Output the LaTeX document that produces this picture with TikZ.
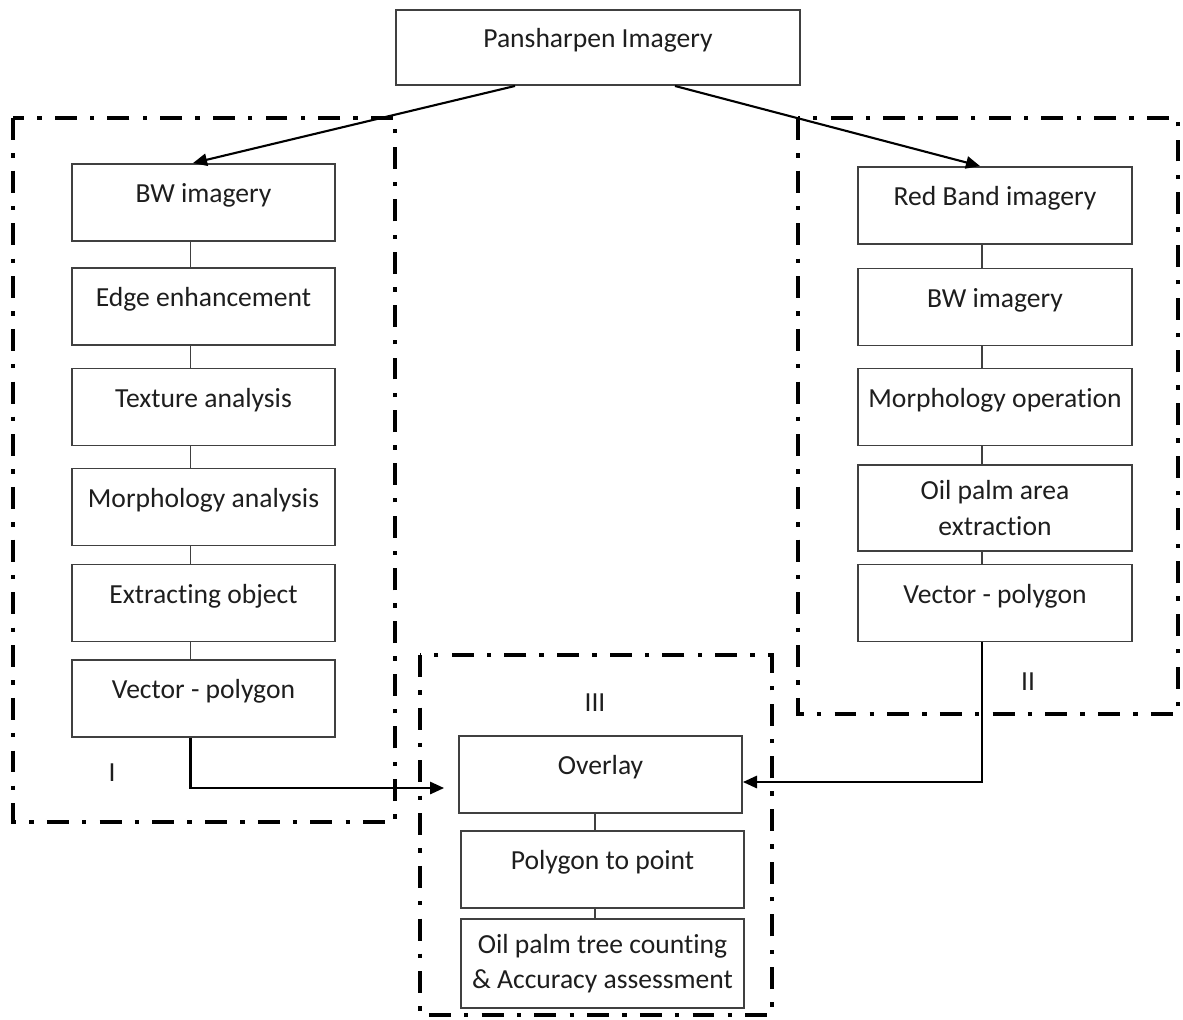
\documentclass[tikz,border=0pt]{standalone}
\usepackage{fontspec}
\setmainfont{Carlito}[Ligatures=CommonOff]
\usetikzlibrary{arrows.meta, calc}

\definecolor{boxgray}{RGB}{64,64,64}
\definecolor{txtgray}{RGB}{30,30,30}

\tikzset{
  boxbase/.style={draw=boxgray, line width=1.1pt, fill=white, inner sep=0pt,
    minimum height=1.54cm, text=txtgray, font=\fontsize{15.7}{20}\selectfont},
  onebox/.style={boxbase, text height=0.4cm, text depth=0.4cm},
  twobox/.style={boxbase, align=center},
  link/.style={draw=boxgray, line width=1.1pt},
  flow/.style={-{Triangle[length=8pt,width=7pt]}, line width=1.2pt},
  groupframe/.style={line width=2.3pt, dash pattern=on 12.5pt off 7.5pt on 2.5pt off 7.5pt},
  tag/.style={text=txtgray, font=\fontsize{15.7}{20}\selectfont}
}

\begin{document}
\begin{tikzpicture}[x=0.02cm, y=-0.02cm]
\useasboundingbox (0,0) rectangle (1183,1019);

% dashed groups
\draw[groupframe] (13,118) rectangle (395,822);
\draw[groupframe] (798,118) rectangle (1178,714);
\draw[groupframe] (420,655) rectangle (772,1015);

\node[onebox, minimum width=8.08cm, minimum height=1.5cm] (pan) at (598,47.5) {Pansharpen Imagery};

% branch I
\foreach \name/\y/\txt in {bwl/202.5/BW imagery, edge/306.5/Edge enhancement,
    tex/407/Texture analysis, morph/507/Morphology analysis,
    extr/603/Extracting object, vecl/698.5/Vector - polygon}
  \node[onebox, minimum width=5.26cm] (\name) at (203.5,\y) {\txt};

% branch II
\foreach \name/\y/\txt in {red/205.5/Red Band imagery, bwr/307/BW imagery,
    mop/407/Morphology operation, vecr/603/Vector - polygon}
  \node[onebox, minimum width=5.48cm] (\name) at (995,\y) {\txt};
\node[twobox, minimum width=5.48cm, minimum height=1.72cm] (area) at (995,508) {Oil palm area\\extraction};

% branch III
\node[onebox, minimum width=5.66cm] (ovl) at (600.5,774.5) {Overlay};
\node[onebox, minimum width=5.66cm] (ptp) at (602.5,869.5) {Polygon to point};
\node[twobox, minimum width=5.66cm, minimum height=1.78cm] (cnt) at (602.5,963.5) {Oil palm tree counting\\\& Accuracy assessment};

\node[tag] (lI) at (112,773) {I};
\node[tag] (lII) at (1028,682) {II};
\node[tag] (lIII) at (595,703) {III};

% links
\foreach \a/\b in {bwl/edge, edge/tex, tex/morph, morph/extr, extr/vecl,
    red/bwr, bwr/mop, mop/area, area/vecr}
  \draw[link] ($(\a.south)+(-13,0)$) -- ($(\b.north)+(-13,0)$);
\draw[link] ($(ovl.south)+(-5.5,0)$) -- ($(ptp.north)+(-7.5,0)$);
\draw[link] ($(ptp.south)+(-7.5,0)$) -- ($(cnt.north)+(-7.5,0)$);

% arrows
\draw[flow] ($(pan.south)+(-83,0)$) -- ($(bwl.north)+(-10.5,0)$);
\draw[flow] ($(pan.south)+(77,0)$) -- ($(red.north)+(-15,0)$);
\draw[flow] ($(vecl.south)+(-13,0)$) |- ($(ovl.west)+(-14,13.5)$);
\draw[flow] ($(vecr.south)+(-13,0)$) |- ($(ovl.east)+(0,7.5)$);
\end{tikzpicture}
\end{document}
